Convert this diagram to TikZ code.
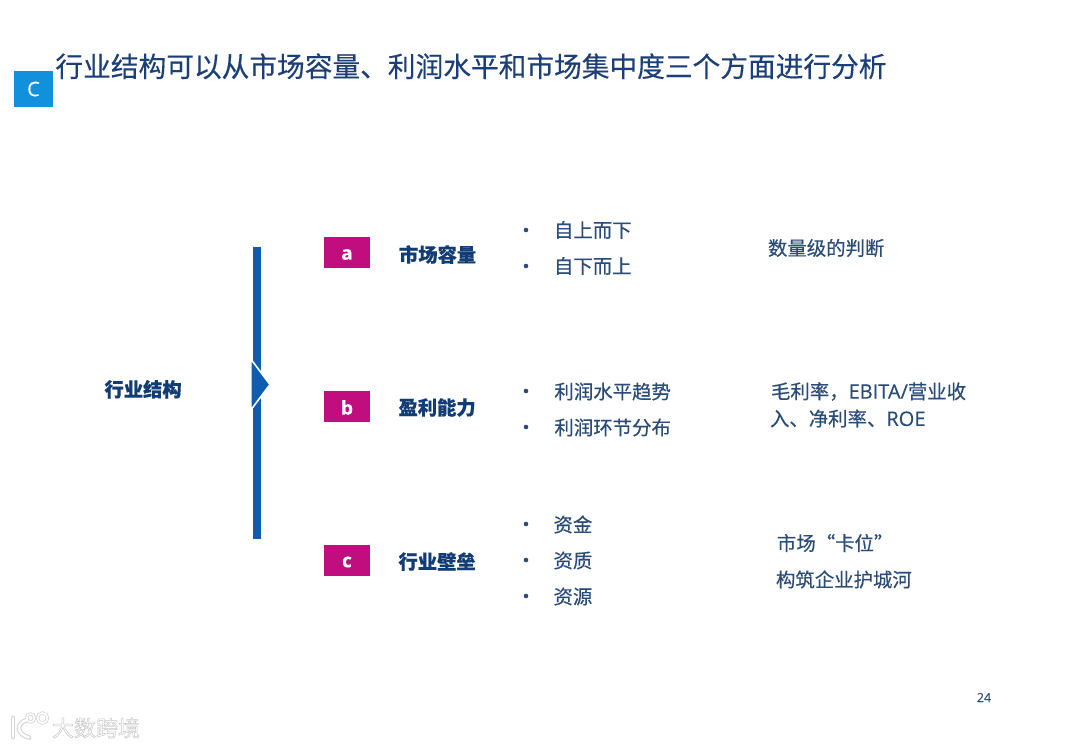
\documentclass[tikz,border=0pt]{standalone}
\usepackage{fontspec}
\setmainfont[FakeBold=0.35]{Noto Sans CJK SC}
\newfontfamily\latinfont[FakeBold=0.3]{Open Sans}
\newfontfamily\wmfont[FakeBold=2.4]{Noto Sans CJK SC}
\definecolor{titleblue}{HTML}{1D3F78}
\definecolor{bodyblue}{HTML}{2B4C78}
\definecolor{labelblue}{HTML}{123C74}
\definecolor{magbox}{HTML}{C00E7E}
\definecolor{cbox}{HTML}{1190DC}
\definecolor{barblue}{HTML}{0F5DB0}
\definecolor{wmgrey}{HTML}{D4D4D4}
\tikzset{
  x=1pt,y=-1pt,
  every node/.style={inner sep=0pt,outer sep=0pt},
  titletext/.style={anchor=west,text=titleblue,font=\fontsize{27.7}{30}\selectfont},
  badge/.style={fill=magbox,minimum width=46pt,minimum height=31pt},
  badgeletter/.style={text=white,font=\latinfont\bfseries\fontsize{19}{20}\selectfont},
  headtext/.style={anchor=west,text=labelblue,font=\bfseries\fontsize{19.3}{22}\selectfont},
  itemtext/.style={anchor=west,text=bodyblue,font=\fontsize{19.4}{22}\selectfont},
  bulletdot/.style={circle,fill=bodyblue,minimum size=4.6pt},
  wmtext/.style={anchor=west,text=white,font=\wmfont\fontsize{22}{24}\selectfont}
}
\begin{document}
\begin{tikzpicture}
\useasboundingbox (0,0) rectangle (1080,748);
\fill[white] (0,0) rectangle (1080,748);
% title
\node[fill=cbox,minimum width=39pt,minimum height=36pt,text=white,font=\latinfont\fontsize{20}{22}\selectfont] (cmark) at (33.5,89) {C};
\node[titletext] (title) at (55.5,66.3) {行业结构可以从市场容量、利润水平和市场集中度三个方面进行分析};
% bracket
\node[headtext] (root) at (104.5,389.3) {行业结构};
\fill[barblue] (252.7,246.5) rectangle (261,539);
\fill[barblue,draw=white,line width=1.6pt,line join=miter] (250.8,359) -- (270,384.5) -- (250.8,410) -- cycle;
% row a
\node[badge] (ba) at (347,252.5) {};
\node[badgeletter] (la) at (347,254.5) {a};
\node[headtext] (ha) at (399,254.5) {市场容量};
\node[bulletdot] (d1) at (526,230) {};
\node[itemtext] (i1) at (554,230) {自上而下};
\node[bulletdot] (d2) at (526,266) {};
\node[itemtext] (i2) at (554,266) {自下而上};
\node[itemtext] (na) at (768,248) {数量级的判断};
% row b
\node[badge] (bb) at (347,406.5) {};
\node[badgeletter] (lb) at (347,407.5) {b};
\node[headtext] (hb) at (398.5,407.5) {盈利能力};
\node[bulletdot] (d3) at (526,391) {};
\node[itemtext] (i3) at (554.5,391.5) {利润水平趋势};
\node[bulletdot] (d4) at (526,427) {};
\node[itemtext] (i4) at (554.5,427.5) {利润环节分布};
\node[itemtext] (nb1) at (771,391.5) {毛利率，{\latinfont\fontsize{20}{22}\selectfont EBITA/}营业收};
\node[itemtext] (nb2) at (770,418.5) {入、净利率、{\latinfont\fontsize{20}{22}\selectfont ROE}};
% row c
\node[badge] (bc) at (347,560.5) {};
\node[badgeletter] (lc) at (347,562) {c};
\node[headtext] (hc) at (398.5,561.5) {行业壁垒};
\node[bulletdot] (d5) at (526,524) {};
\node[itemtext] (i5) at (553.5,524.5) {资金};
\node[bulletdot] (d6) at (526,560) {};
\node[itemtext] (i6) at (553.5,560.5) {资质};
\node[bulletdot] (d7) at (526,596) {};
\node[itemtext] (i7) at (553.5,596.5) {资源};
\node[itemtext] (nc1) at (777,543) {市场“卡位”};
\node[itemtext] (nc2) at (776,579.5) {构筑企业护城河};
% page number
\node[anchor=center,text=bodyblue,font=\latinfont\fontsize{12.5}{14}\selectfont] (pg) at (984,697.5) {24};
% watermark logo
\begin{scope}[line cap=round]
  \foreach \c/\w in {wmgrey/4.6,white/2.4}{
    \draw[\c,line width=\w pt] (13,718) -- (13,737);
    \draw[\c,line width=\w pt] (27,720) .. controls (16,723) and (16,734) .. (29,737.5);
    \draw[\c,line width=\w pt*0.7] (30.5,718) circle[radius=4];
    \draw[\c,line width=\w pt*0.7] (42.5,718) circle[radius=5];
  }
\end{scope}
% watermark text: white fill with a grey stroke
\node[wmtext] (wm) at (52,728) {\special{pdf:code 0.78 G}大数跨境\special{pdf:code 0 G}};
\end{tikzpicture}
\end{document}
